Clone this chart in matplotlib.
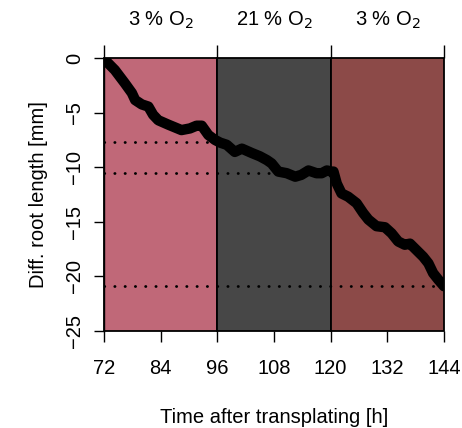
import numpy as np
import matplotlib.pyplot as plt
from matplotlib.patches import Rectangle
from matplotlib.transforms import blended_transform_factory

plt.rcParams['font.family'] = ['Liberation Sans', 'DejaVu Sans']

# --- data ---
time_h = [72.0, 72.2, 74.3, 76.4, 77.9, 78.6, 80.0, 81.4, 82.4, 83.5, 85.6,
          88.4, 90.2, 91.6, 92.7, 94.1, 95.5, 96.6, 98.0, 99.7, 101.2, 103.3,
          105.0, 106.5, 107.5, 108.9, 110.7, 112.5, 113.8, 115.3, 117.0,
          118.1, 119.2, 120.2, 120.6, 121.3, 122.3, 123.7, 125.5, 126.9,
          128.0, 129.7, 131.5, 132.9, 134.3, 135.7, 136.8, 138.2, 139.6,
          140.7, 141.7, 142.8, 144.0]
diff_len = [0.0, -0.18, -1.1, -2.3, -3.2, -3.85, -4.25, -4.45, -5.2, -5.7, -6.1,
            -6.6, -6.45, -6.2, -6.2, -7.05, -7.5, -7.75, -7.95, -8.6, -8.3, -8.7,
            -9.0, -9.35, -9.65, -10.4, -10.55, -10.87, -10.7, -10.3, -10.55,
            -10.55, -10.3, -10.4, -10.4, -11.5, -12.4, -12.7, -13.3, -14.2,
            -14.8, -15.4, -15.5, -16.05, -16.8, -17.1, -17.0, -17.6, -18.2,
            -18.8, -19.7, -20.3, -20.9]

phases = [(72, 96), (96, 120), (120, 144)]
phase_labels = ["3 % O$_2$", "21 % O$_2$", "3 % O$_2$"]
phase_colors = ["#C06878", "#474747", "#8C4A48"]

# reference levels (dotted): y value, x start, x end
ref_y = [-7.7, -10.5, -20.9]
ref_x0 = [72, 72, 72]
ref_x1 = [96, 107, 144]

xticks = [72, 84, 96, 108, 120, 132, 144]
yticks = [0, -5, -10, -15, -20, -25]

fig = plt.figure(figsize=(4.62, 4.28), dpi=100)
ax = fig.add_axes([0.2251, 0.2266, 0.7359, 0.6379])
ax.set_xlim(72, 144)
ax.set_ylim(-25, 0)

for (x0, x1), c in zip(phases, phase_colors):
    ax.add_patch(Rectangle((x0, -25), x1 - x0, 25, facecolor=c,
                           edgecolor="black", lw=1.3, clip_on=False, zorder=1))

for y, a, b in zip(ref_y, ref_x0, ref_x1):
    ax.plot([a, b], [y, y], color="black", lw=2.0, ls=(0, (0.1, 3.6)),
            dash_capstyle="round", zorder=2)

ax.plot(time_h, diff_len, color="black", lw=7.5, solid_joinstyle="round",
        solid_capstyle="round", zorder=3)

for sp in ["top", "right", "bottom"]:
    ax.spines[sp].set_visible(False)
ax.spines["left"].set_bounds(-25, 0)
ax.spines["left"].set_linewidth(1.0)

ax.set_xticks(xticks)
ax.set_xticklabels([str(t) for t in xticks])
ax.set_yticks(yticks)
ax.set_yticklabels(["0", "\u22125", "\u221210", "\u221215", "\u221220", "\u221225"],
                   rotation=90, va="center")
ax.tick_params(axis="x", length=8, width=1.0, pad=12, labelsize=14.5)
ax.tick_params(axis="y", length=7.5, width=1.0, pad=7, labelsize=14.5)

top = ax.secondary_xaxis("top")
top.set_xticks([72, 96, 120, 144])
top.set_xticklabels([])
top.tick_params(length=9.5, width=1.0)
top.spines["top"].set_visible(False)

ax.set_xlabel("Time after transplating [h]", fontsize=14.5, labelpad=22)
ax.set_ylabel("Diff. root length [mm]", fontsize=14.5, labelpad=12)

trans = blended_transform_factory(ax.transData, fig.transFigure)
for (x0, x1), lab in zip(phases, phase_labels):
    ax.text((x0 + x1) / 2, 1 - 20 / 428, lab, transform=trans,
            ha="center", va="center", fontsize=14.5)

fig.savefig("out.png", dpi=100)
